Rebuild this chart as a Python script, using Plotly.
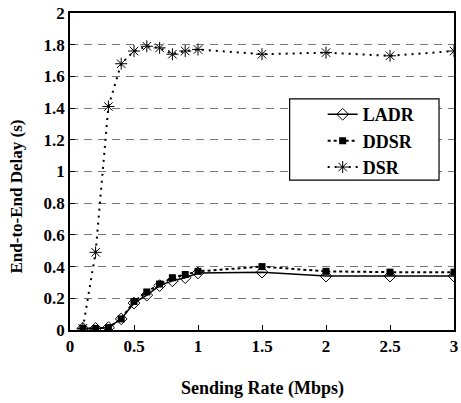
import plotly.graph_objects as go

rate = [0.1, 0.2, 0.3, 0.4, 0.5, 0.6, 0.7, 0.8, 0.9, 1.0, 1.5, 2.0, 2.5, 3.0]
ladr = [0.01, 0.01, 0.015, 0.07, 0.17, 0.22, 0.28, 0.31, 0.33, 0.36, 0.365, 0.34, 0.34, 0.34]
ddsr = [0.01, 0.01, 0.015, 0.07, 0.18, 0.24, 0.29, 0.33, 0.35, 0.37, 0.40, 0.37, 0.365, 0.365]
dsr = [0.01, 0.49, 1.41, 1.68, 1.76, 1.79, 1.78, 1.74, 1.76, 1.77, 1.74, 1.75, 1.73, 1.76]
x_ticks = [0, 0.5, 1, 1.5, 2, 2.5, 3]
x_labels = ["0", "0.5", "1", "1.5", "2", "2.5", "3"]
y_ticks = [0, 0.2, 0.4, 0.6, 0.8, 1, 1.2, 1.4, 1.6, 1.8, 2]
y_labels = ["0", "0.2", "0.4", "0.6", "0.8", "1", "1.2", "1.4", "1.6", "1.8", "2"]
x_title = "Sending Rate (Mbps)"
y_title = "End-to-End Delay (s)"

font = "Liberation Serif"

fig = go.Figure()
fig.add_trace(go.Scatter(x=rate, y=ladr, name="LADR", mode="lines+markers",
                         line=dict(color="black", width=1.5, dash="solid"),
                         marker=dict(symbol="diamond-open", size=9, color="black",
                                     line=dict(width=1, color="black"))))
fig.add_trace(go.Scatter(x=rate, y=ddsr, name="DDSR", mode="lines+markers",
                         line=dict(color="black", width=2, dash="3px,3px"),
                         marker=dict(symbol="square", size=7, color="black")))
fig.add_trace(go.Scatter(x=rate, y=dsr, name="DSR", mode="lines+markers",
                         line=dict(color="black", width=2, dash="2px,5px"),
                         marker=dict(symbol="asterisk-open", size=10, color="black",
                                     line=dict(width=1, color="black"))))

# legend frame
fig.add_shape(type="rect", xref="paper", yref="paper",
              x0=0.572, x1=0.961, y0=0.473, y1=0.729,
              line=dict(color="black", width=1.2), fillcolor="white", layer="above")

# axis titles
fig.add_annotation(text=x_title, xref="paper", yref="paper", x=0.5, y=-0.183,
                   xanchor="center", yanchor="middle", showarrow=False,
                   font=dict(family=font, size=18, color="black", weight="bold"))
fig.add_annotation(text=y_title, xref="paper", yref="paper", x=-0.139, y=0.42,
                   xanchor="center", yanchor="middle", showarrow=False, textangle=-90,
                   font=dict(family=font, size=17, color="black", weight="bold"))

fig.update_layout(
    width=461, height=403,
    margin=dict(l=70, r=3, t=13, b=73),
    paper_bgcolor="white", plot_bgcolor="white",
    font=dict(family=font, size=16, color="black", weight="bold"),
    showlegend=True,
    legend=dict(x=0.658, y=0.738, xanchor="left", yanchor="top",
                bgcolor="rgba(0,0,0,0)", borderwidth=0,
                font=dict(family=font, size=18, color="black", weight="bold"),
                tracegroupgap=2),
)
fig.update_xaxes(range=[0, 3], tickvals=x_ticks, ticktext=[f"<b>{t}</b>" for t in x_labels],
                 tickfont=dict(family=font, size=17, weight="bold"),
                 ticks="inside", ticklen=5, tickcolor="black",
                 showline=True, linecolor="black", linewidth=1.5, mirror=True,
                 showgrid=False, zeroline=False)
fig.update_yaxes(range=[0, 2], tickvals=y_ticks, ticktext=[f"<b>{t}</b>" for t in y_labels],
                 tickfont=dict(family=font, size=17, weight="bold"),
                 ticks="inside", ticklen=5, tickcolor="black",
                 showline=True, linecolor="black", linewidth=1.5, mirror=True,
                 showgrid=True, gridcolor="#777777", gridwidth=1, griddash="8px,6px",
                 zeroline=False)

fig.write_html("out.html")
